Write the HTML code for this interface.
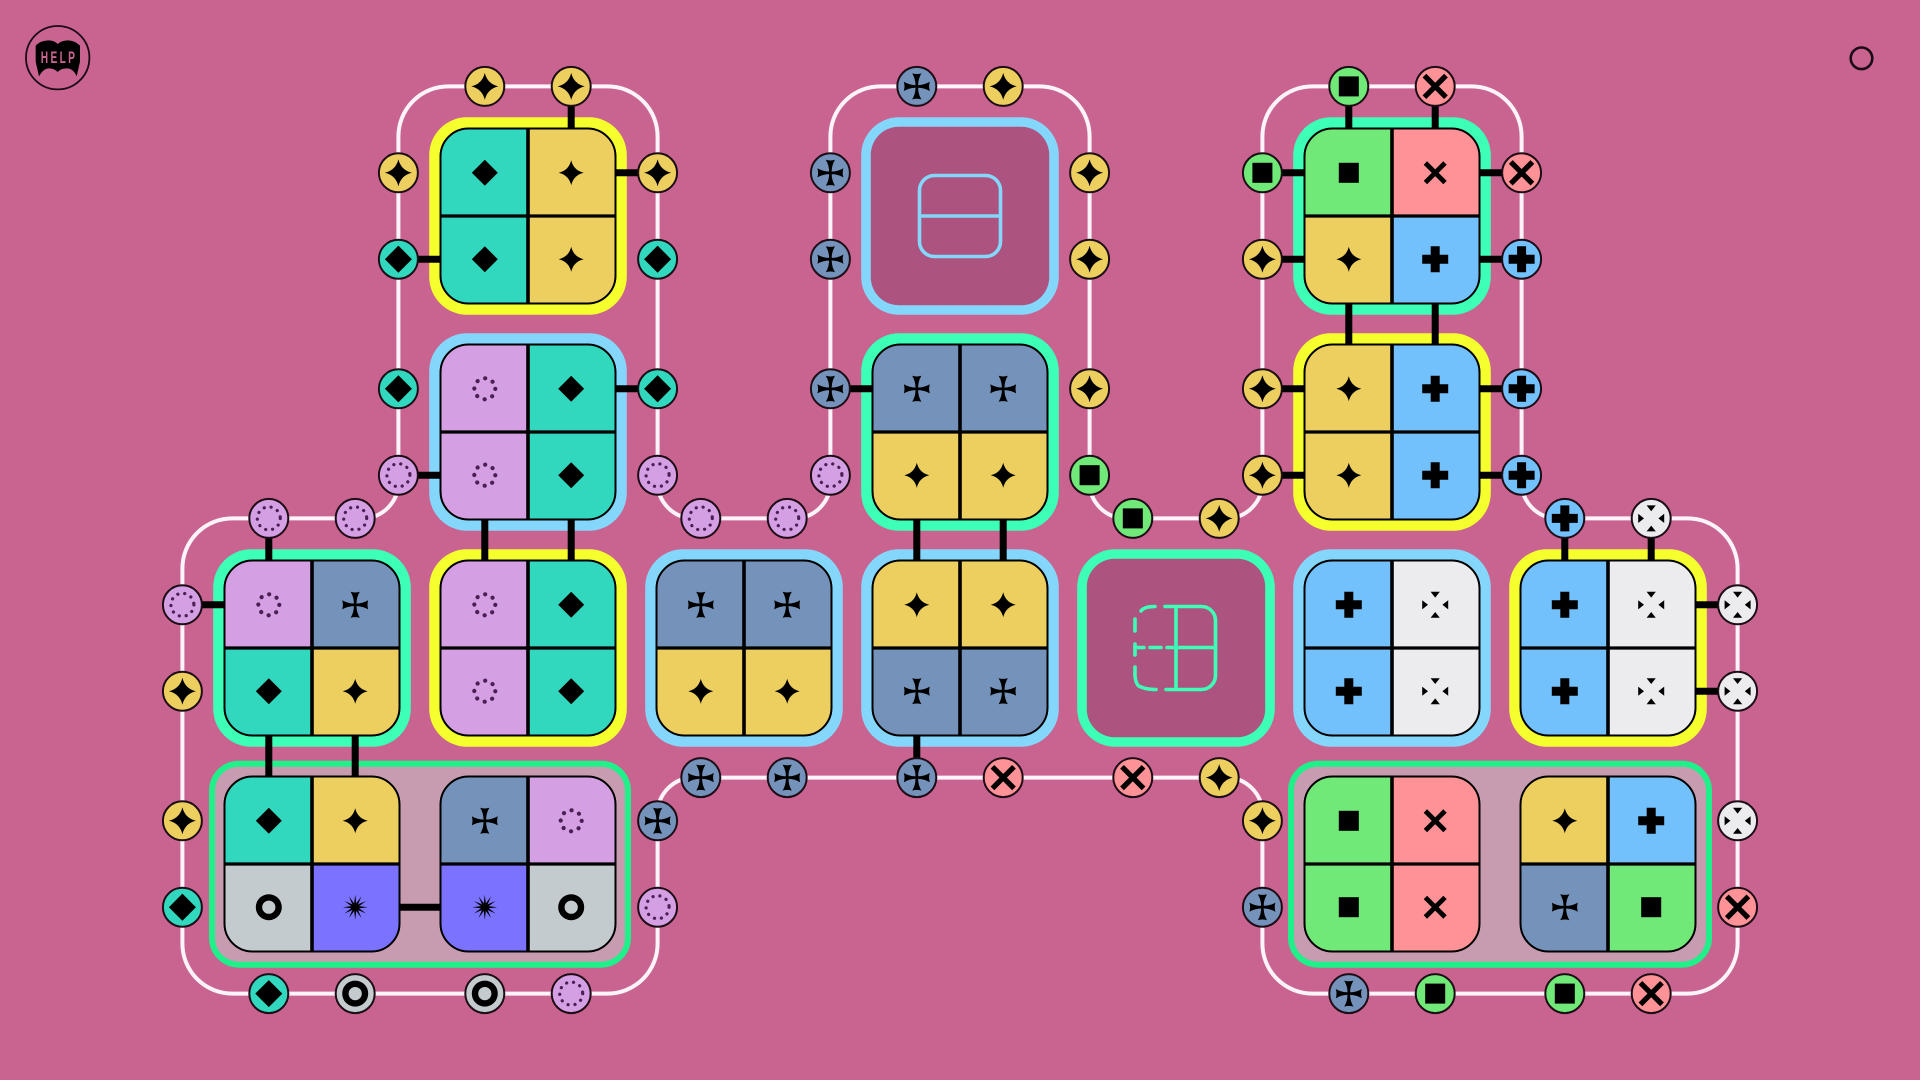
<!DOCTYPE html>
<html>
<head>
<meta charset="utf-8">
<title>Diagram</title>
<style>
html,body{margin:0;padding:0;width:1920px;height:1080px;overflow:hidden;background:#c96490}
svg{display:block}
.t{fill:#31d8be}.y{fill:#edcf60}.p{fill:#d49fe3}.s{fill:#7592ba}.g{fill:#70e978}.r{fill:#ff9296}.b{fill:#73c1fc}.w{fill:#ececee}.a{fill:#c4cbce}.v{fill:#7b73ff}
.by{fill:#f6ff2e}.bb{fill:#85d6fb}.bg{fill:#3dffb6}
</style>
</head>
<body>
<svg width="1920" height="1080" viewBox="0 0 1920 1080" xmlns="http://www.w3.org/2000/svg">
<defs>
<path id="tl" d="M-87.5 0V-59.5a28 28 0 0 1 28-28H0V0Z"/>
<path id="tr" d="M87.5 0V-59.5a28 28 0 0 0-28-28H0V0Z"/>
<path id="bl" d="M-87.5 0V59.5a28 28 0 0 0 28 28H0V0Z"/>
<path id="br" d="M87.5 0V59.5a28 28 0 0 1-28 28H0V0Z"/>
<rect id="o" x="-98.8" y="-98.8" width="197.6" height="197.6" rx="38"/>
<g id="f" fill="none" stroke="#000">
<rect x="-87.5" y="-87.5" width="175" height="175" rx="28" stroke-width="2"/>
<path d="M0-87.5V87.5" stroke-width="3.6"/>
<path d="M-87.5 0H87.5" stroke-width="3.2"/>
</g>
<path id="star" d="M0-12.5Q2.4-2.4 12.5 0Q2.4 2.4 0 12.5Q-2.4 2.4-12.5 0Q-2.4-2.4 0-12.5Z"/>
<path id="dia" d="M0-13L13 0L0 13L-13 0Z"/>
<rect id="sq" x="-10" y="-10" width="20" height="20"/>
<path id="x" d="M-9.8-9.8L9.8 9.8M9.8-9.8L-9.8 9.8" stroke="#000" stroke-width="4.8" fill="none"/>
<path id="pl" d="M-4.5-13H4.5V-4.5H13V4.5H4.5V13H-4.5V4.5H-13V-4.5H-4.5Z"/>
<path id="cr" d="M-1.3-1.3Q-1.3-7.5-4.6-13Q0-11.6 4.6-13Q1.3-7.5 1.3-1.3Q7.5-1.3 13-4.6Q11.6 0 13 4.6Q7.5 1.3 1.3 1.3Q1.3 7.5 4.6 13Q0 11.6-4.6 13Q-1.3 7.5-1.3 1.3Q-7.5 1.3-13 4.6Q-11.6 0-13-4.6Q-7.5-1.3-1.3-1.3Z"/>
<circle id="ring" r="9.8" fill="none" stroke="#000" stroke-width="6.4"/>
<polygon id="bu" points="12.5,0 3.86,1.04 10.8,6.25 2.83,2.83 6.25,10.8 1.04,3.86 0,12.5 -1.04,3.86 -6.25,10.8 -2.83,2.83 -10.8,6.25 -3.86,1.04 -12.5,0 -3.86,-1.04 -10.8,-6.25 -2.83,-2.83 -6.25,-10.8 -1.04,-3.86 0,-12.5 1.04,-3.86 6.25,-10.8 2.83,-2.83 10.8,-6.25 3.86,-1.04"/>
<path id="tri" d="M-4.6-13H4.6L0-7.2ZM-4.6 13H4.6L0 7.2ZM-13-4.6V4.6L-7.2 0ZM13-4.6V4.6L7.2 0Z"/>
<circle id="dot" r="10.5" fill="none" stroke="#4a1f54" stroke-width="4.2" stroke-linecap="round" stroke-dasharray="0.1 8.15"/>
<g id="Ps"><circle r="19.5" fill="#edcf60" stroke="#1d0d16" stroke-width="2"/><use href="#star" transform="scale(1.08)"/></g>
<g id="Pt"><circle r="19.5" fill="#31d8be" stroke="#1d0d16" stroke-width="2"/><use href="#dia" transform="scale(1.04)"/></g>
<g id="Pc"><circle r="19.5" fill="#7592ba" stroke="#1d0d16" stroke-width="2"/><use href="#cr"/></g>
<g id="Pd"><circle r="19.5" fill="#d49fe3" stroke="#1d0d16" stroke-width="2"/><circle r="11.5" fill="none" stroke="#4a1f54" stroke-width="3.2" stroke-linecap="round" stroke-dasharray="0.1 6.92"/></g>
<g id="Pq"><circle r="19.5" fill="#70e978" stroke="#1d0d16" stroke-width="2"/><use href="#sq"/></g>
<g id="Px"><circle r="19.5" fill="#ff9296" stroke="#1d0d16" stroke-width="2"/><use href="#x" transform="scale(1.1)"/></g>
<g id="Pb"><circle r="19.5" fill="#73c1fc" stroke="#1d0d16" stroke-width="2"/><use href="#pl"/></g>
<g id="Pw"><circle r="19.5" fill="#ececee" stroke="#1d0d16" stroke-width="2"/><use href="#tri"/></g>
<g id="Pa"><circle r="19.5" fill="#c4cbce" stroke="#1d0d16" stroke-width="2"/><use href="#ring"/></g>
</defs>

<rect width="1920" height="1080" fill="#c96490"/>

<!-- help -->
<circle cx="57.7" cy="57.7" r="31.7" fill="none" stroke="#1a0a14" stroke-width="1.8"/>
<path transform="translate(25 25) scale(.3333)" d="M32 62Q45 47 70 46Q88 46 98 57Q110 46 130 46Q150 47 165 62V110L155 154Q145 130 125 130Q108 130 98 141Q88 130 72 130Q55 130 42 154L32 110Z" fill="#000"/>
<text transform="translate(59 63) scale(.6 1)" font-family="'Liberation Sans',sans-serif" font-weight="bold" font-size="17" letter-spacing="3.9" fill="#c96490" text-anchor="middle">HELP</text>
<circle cx="1861.5" cy="58.3" r="10.8" fill="none" stroke="#1a0a14" stroke-width="2.6"/>

<!-- white path -->
<path d="M398.4 136.4A50 50 0 0 1 448.4 86.4H607.6A50 50 0 0 1 657.6 136.4V482.4A36 36 0 0 0 693.6 518.4H794.4A36 36 0 0 0 830.4 482.4V136.4A50 50 0 0 1 880.4 86.4H1039.6A50 50 0 0 1 1089.6 136.4V482.4A36 36 0 0 0 1125.6 518.4H1226.4A36 36 0 0 0 1262.4 482.4V136.4A50 50 0 0 1 1312.4 86.4H1471.6A50 50 0 0 1 1521.6 136.4V482.4A36 36 0 0 0 1557.6 518.4H1687.6A50 50 0 0 1 1737.6 568.4V943.6A50 50 0 0 1 1687.6 993.6H1312.4A50 50 0 0 1 1262.4 943.6V813.6A36 36 0 0 0 1226.4 777.6H693.6A36 36 0 0 0 657.6 813.6V943.6A50 50 0 0 1 607.6 993.6H232.4A50 50 0 0 1 182.4 943.6V568.4A50 50 0 0 1 232.4 518.4H362.4A36 36 0 0 0 398.4 482.4Z" fill="none" stroke="#fdf3f8" stroke-width="4"/>

<!-- containers -->
<rect x="212" y="763.7" width="416" height="201" rx="27" fill="#c89cb0" stroke="#1ff08a" stroke-width="6"/>
<rect x="1291" y="763.7" width="418" height="201" rx="27" fill="#c89cb0" stroke="#1ff08a" stroke-width="6"/>

<!-- outer borders -->
<use href="#o" class="by" x="528" y="216"/>
<use href="#o" class="bb" x="528" y="432"/>
<use href="#o" class="bb" x="960" y="216"/>
<use href="#o" class="bg" x="960" y="432"/>
<use href="#o" class="bg" x="1392" y="216"/>
<use href="#o" class="by" x="1392" y="432"/>
<use href="#o" class="bg" x="312" y="648"/>
<use href="#o" class="by" x="528" y="648"/>
<use href="#o" class="bb" x="744" y="648"/>
<use href="#o" class="bb" x="960" y="648"/>
<use href="#o" class="bg" x="1176" y="648"/>
<use href="#o" class="bb" x="1392" y="648"/>
<use href="#o" class="by" x="1608" y="648"/>

<!-- connectors -->
<g stroke="#000" stroke-width="7" fill="none">
<path d="M571.2 106V130M616 172.8H638M418 259.2H442M418 475.2H442M616 388.8H638"/>
<path d="M484.8 517V563M571.2 517V563M916.8 517V563M1003.2 517V563M1348.8 301V347M1435.2 301V347"/>
<path d="M850 388.8H874M916.8 733V758"/>
<path d="M1348.8 106V130M1435.2 106V130M1282 172.8H1306M1282 259.2H1306M1478 172.8H1502M1478 259.2H1502M1282 388.8H1306M1282 475.2H1306M1478 388.8H1502M1478 475.2H1502"/>
<path d="M1564.8 538V563M1651.2 538V563M1694 604.8H1718M1694 691.2H1718"/>
<path d="M268.8 538V563M202 604.8H226M268.8 733V779M355.2 733V779M398 907.2H442"/>
</g>

<!-- empty nodes -->
<rect x="870.8" y="126.8" width="178.4" height="178.4" rx="28" fill="#ac547f"/>
<rect x="1086.8" y="558.8" width="178.4" height="178.4" rx="28" fill="#ac547f"/>
<g fill="none" stroke="#85d6fb" stroke-width="3.6">
<rect x="919.5" y="175.5" width="81" height="81" rx="15"/>
<path d="M919.5 216H1000.5"/>
</g>
<g fill="none" stroke="#3dffb6" stroke-width="3.6" stroke-linecap="round">
<path d="M1165 606.5H1201.5A14 14 0 0 1 1215.5 620.5V675.5A14 14 0 0 1 1201.5 689.5H1166M1176 606.5V689.5M1176 647.5H1215.5"/>
<path d="M1155 606.5Q1144 606.5 1141 611M1135 619V631M1135 644V655M1135 667V676Q1136 686 1141 687Q1147 689.5 1156 689.5"/>
<path d="M1135 647.5H1144M1150 647.5H1161M1167 647.5H1176"/>
</g>

<!-- nodes -->
<g transform="translate(528 216)"><use href="#tl" class="t"/><use href="#tr" class="y"/><use href="#bl" class="t"/><use href="#br" class="y"/><use href="#f"/><use href="#dia" x="-43.2" y="-43.2"/><use href="#star" x="43.2" y="-43.2"/><use href="#dia" x="-43.2" y="43.2"/><use href="#star" x="43.2" y="43.2"/></g>
<g transform="translate(528 432)"><use href="#tl" class="p"/><use href="#tr" class="t"/><use href="#bl" class="p"/><use href="#br" class="t"/><use href="#f"/><use href="#dot" x="-43.2" y="-43.2"/><use href="#dia" x="43.2" y="-43.2"/><use href="#dot" x="-43.2" y="43.2"/><use href="#dia" x="43.2" y="43.2"/></g>
<g transform="translate(960 432)"><use href="#tl" class="s"/><use href="#tr" class="s"/><use href="#bl" class="y"/><use href="#br" class="y"/><use href="#f"/><use href="#cr" x="-43.2" y="-43.2"/><use href="#cr" x="43.2" y="-43.2"/><use href="#star" x="-43.2" y="43.2"/><use href="#star" x="43.2" y="43.2"/></g>
<g transform="translate(1392 216)"><use href="#tl" class="g"/><use href="#tr" class="r"/><use href="#bl" class="y"/><use href="#br" class="b"/><use href="#f"/><use href="#sq" x="-43.2" y="-43.2"/><use href="#x" x="43.2" y="-43.2"/><use href="#star" x="-43.2" y="43.2"/><use href="#pl" x="43.2" y="43.2"/></g>
<g transform="translate(1392 432)"><use href="#tl" class="y"/><use href="#tr" class="b"/><use href="#bl" class="y"/><use href="#br" class="b"/><use href="#f"/><use href="#star" x="-43.2" y="-43.2"/><use href="#pl" x="43.2" y="-43.2"/><use href="#star" x="-43.2" y="43.2"/><use href="#pl" x="43.2" y="43.2"/></g>
<g transform="translate(312 648)"><use href="#tl" class="p"/><use href="#tr" class="s"/><use href="#bl" class="t"/><use href="#br" class="y"/><use href="#f"/><use href="#dot" x="-43.2" y="-43.2"/><use href="#cr" x="43.2" y="-43.2"/><use href="#dia" x="-43.2" y="43.2"/><use href="#star" x="43.2" y="43.2"/></g>
<g transform="translate(528 648)"><use href="#tl" class="p"/><use href="#tr" class="t"/><use href="#bl" class="p"/><use href="#br" class="t"/><use href="#f"/><use href="#dot" x="-43.2" y="-43.2"/><use href="#dia" x="43.2" y="-43.2"/><use href="#dot" x="-43.2" y="43.2"/><use href="#dia" x="43.2" y="43.2"/></g>
<g transform="translate(744 648)"><use href="#tl" class="s"/><use href="#tr" class="s"/><use href="#bl" class="y"/><use href="#br" class="y"/><use href="#f"/><use href="#cr" x="-43.2" y="-43.2"/><use href="#cr" x="43.2" y="-43.2"/><use href="#star" x="-43.2" y="43.2"/><use href="#star" x="43.2" y="43.2"/></g>
<g transform="translate(960 648)"><use href="#tl" class="y"/><use href="#tr" class="y"/><use href="#bl" class="s"/><use href="#br" class="s"/><use href="#f"/><use href="#star" x="-43.2" y="-43.2"/><use href="#star" x="43.2" y="-43.2"/><use href="#cr" x="-43.2" y="43.2"/><use href="#cr" x="43.2" y="43.2"/></g>
<g transform="translate(1392 648)"><use href="#tl" class="b"/><use href="#tr" class="w"/><use href="#bl" class="b"/><use href="#br" class="w"/><use href="#f"/><use href="#pl" x="-43.2" y="-43.2"/><use href="#tri" x="43.2" y="-43.2"/><use href="#pl" x="-43.2" y="43.2"/><use href="#tri" x="43.2" y="43.2"/></g>
<g transform="translate(1608 648)"><use href="#tl" class="b"/><use href="#tr" class="w"/><use href="#bl" class="b"/><use href="#br" class="w"/><use href="#f"/><use href="#pl" x="-43.2" y="-43.2"/><use href="#tri" x="43.2" y="-43.2"/><use href="#pl" x="-43.2" y="43.2"/><use href="#tri" x="43.2" y="43.2"/></g>
<g transform="translate(312 864)"><use href="#tl" class="t"/><use href="#tr" class="y"/><use href="#bl" class="a"/><use href="#br" class="v"/><use href="#f"/><use href="#dia" x="-43.2" y="-43.2"/><use href="#star" x="43.2" y="-43.2"/><use href="#ring" x="-43.2" y="43.2"/><use href="#bu" x="43.2" y="43.2"/></g>
<g transform="translate(528 864)"><use href="#tl" class="s"/><use href="#tr" class="p"/><use href="#bl" class="v"/><use href="#br" class="a"/><use href="#f"/><use href="#cr" x="-43.2" y="-43.2"/><use href="#dot" x="43.2" y="-43.2"/><use href="#bu" x="-43.2" y="43.2"/><use href="#ring" x="43.2" y="43.2"/></g>
<g transform="translate(1392 864)"><use href="#tl" class="g"/><use href="#tr" class="r"/><use href="#bl" class="g"/><use href="#br" class="r"/><use href="#f"/><use href="#sq" x="-43.2" y="-43.2"/><use href="#x" x="43.2" y="-43.2"/><use href="#sq" x="-43.2" y="43.2"/><use href="#x" x="43.2" y="43.2"/></g>
<g transform="translate(1608 864)"><use href="#tl" class="y"/><use href="#tr" class="b"/><use href="#bl" class="s"/><use href="#br" class="g"/><use href="#f"/><use href="#star" x="-43.2" y="-43.2"/><use href="#pl" x="43.2" y="-43.2"/><use href="#cr" x="-43.2" y="43.2"/><use href="#sq" x="43.2" y="43.2"/></g>

<!-- ports -->
<use href="#Ps" x="484.8" y="86.4"/><use href="#Ps" x="571.2" y="86.4"/>
<use href="#Ps" x="398.4" y="172.8"/><use href="#Pt" x="398.4" y="259.2"/>
<use href="#Ps" x="657.6" y="172.8"/><use href="#Pt" x="657.6" y="259.2"/>
<use href="#Pt" x="398.4" y="388.8"/><use href="#Pd" x="398.4" y="475.2"/>
<use href="#Pt" x="657.6" y="388.8"/><use href="#Pd" x="657.6" y="475.2"/>
<use href="#Pd" x="700.8" y="518.4"/><use href="#Pd" x="787.2" y="518.4"/>
<use href="#Pc" x="916.8" y="86.4"/><use href="#Ps" x="1003.2" y="86.4"/>
<use href="#Pc" x="830.4" y="172.8"/><use href="#Pc" x="830.4" y="259.2"/>
<use href="#Ps" x="1089.6" y="172.8"/><use href="#Ps" x="1089.6" y="259.2"/>
<use href="#Pc" x="830.4" y="388.8"/><use href="#Pd" x="830.4" y="475.2"/>
<use href="#Ps" x="1089.6" y="388.8"/><use href="#Pq" x="1089.6" y="475.2"/>
<use href="#Pq" x="1132.8" y="518.4"/><use href="#Ps" x="1219.2" y="518.4"/>
<use href="#Pq" x="1348.8" y="86.4"/><use href="#Px" x="1435.2" y="86.4"/>
<use href="#Pq" x="1262.4" y="172.8"/><use href="#Ps" x="1262.4" y="259.2"/>
<use href="#Px" x="1521.6" y="172.8"/><use href="#Pb" x="1521.6" y="259.2"/>
<use href="#Ps" x="1262.4" y="388.8"/><use href="#Ps" x="1262.4" y="475.2"/>
<use href="#Pb" x="1521.6" y="388.8"/><use href="#Pb" x="1521.6" y="475.2"/>
<use href="#Pb" x="1564.8" y="518.4"/><use href="#Pw" x="1651.2" y="518.4"/>
<use href="#Pw" x="1737.6" y="604.8"/><use href="#Pw" x="1737.6" y="691.2"/>
<use href="#Pd" x="268.8" y="518.4"/><use href="#Pd" x="355.2" y="518.4"/>
<use href="#Pd" x="182.4" y="604.8"/><use href="#Ps" x="182.4" y="691.2"/>
<use href="#Ps" x="182.4" y="820.8"/><use href="#Pt" x="182.4" y="907.2"/>
<use href="#Pt" x="268.8" y="993.6"/><use href="#Pa" x="355.2" y="993.6"/>
<use href="#Pa" x="484.8" y="993.6"/><use href="#Pd" x="571.2" y="993.6"/>
<use href="#Pc" x="657.6" y="820.8"/><use href="#Pd" x="657.6" y="907.2"/>
<use href="#Pc" x="700.8" y="777.6"/><use href="#Pc" x="787.2" y="777.6"/>
<use href="#Pc" x="916.8" y="777.6"/><use href="#Px" x="1003.2" y="777.6"/>
<use href="#Px" x="1132.8" y="777.6"/><use href="#Ps" x="1219.2" y="777.6"/>
<use href="#Ps" x="1262.4" y="820.8"/><use href="#Pc" x="1262.4" y="907.2"/>
<use href="#Pc" x="1348.8" y="993.6"/><use href="#Pq" x="1435.2" y="993.6"/>
<use href="#Pq" x="1564.8" y="993.6"/><use href="#Px" x="1651.2" y="993.6"/>
<use href="#Pw" x="1737.6" y="820.8"/><use href="#Px" x="1737.6" y="907.2"/>
</svg>
</body>
</html>
